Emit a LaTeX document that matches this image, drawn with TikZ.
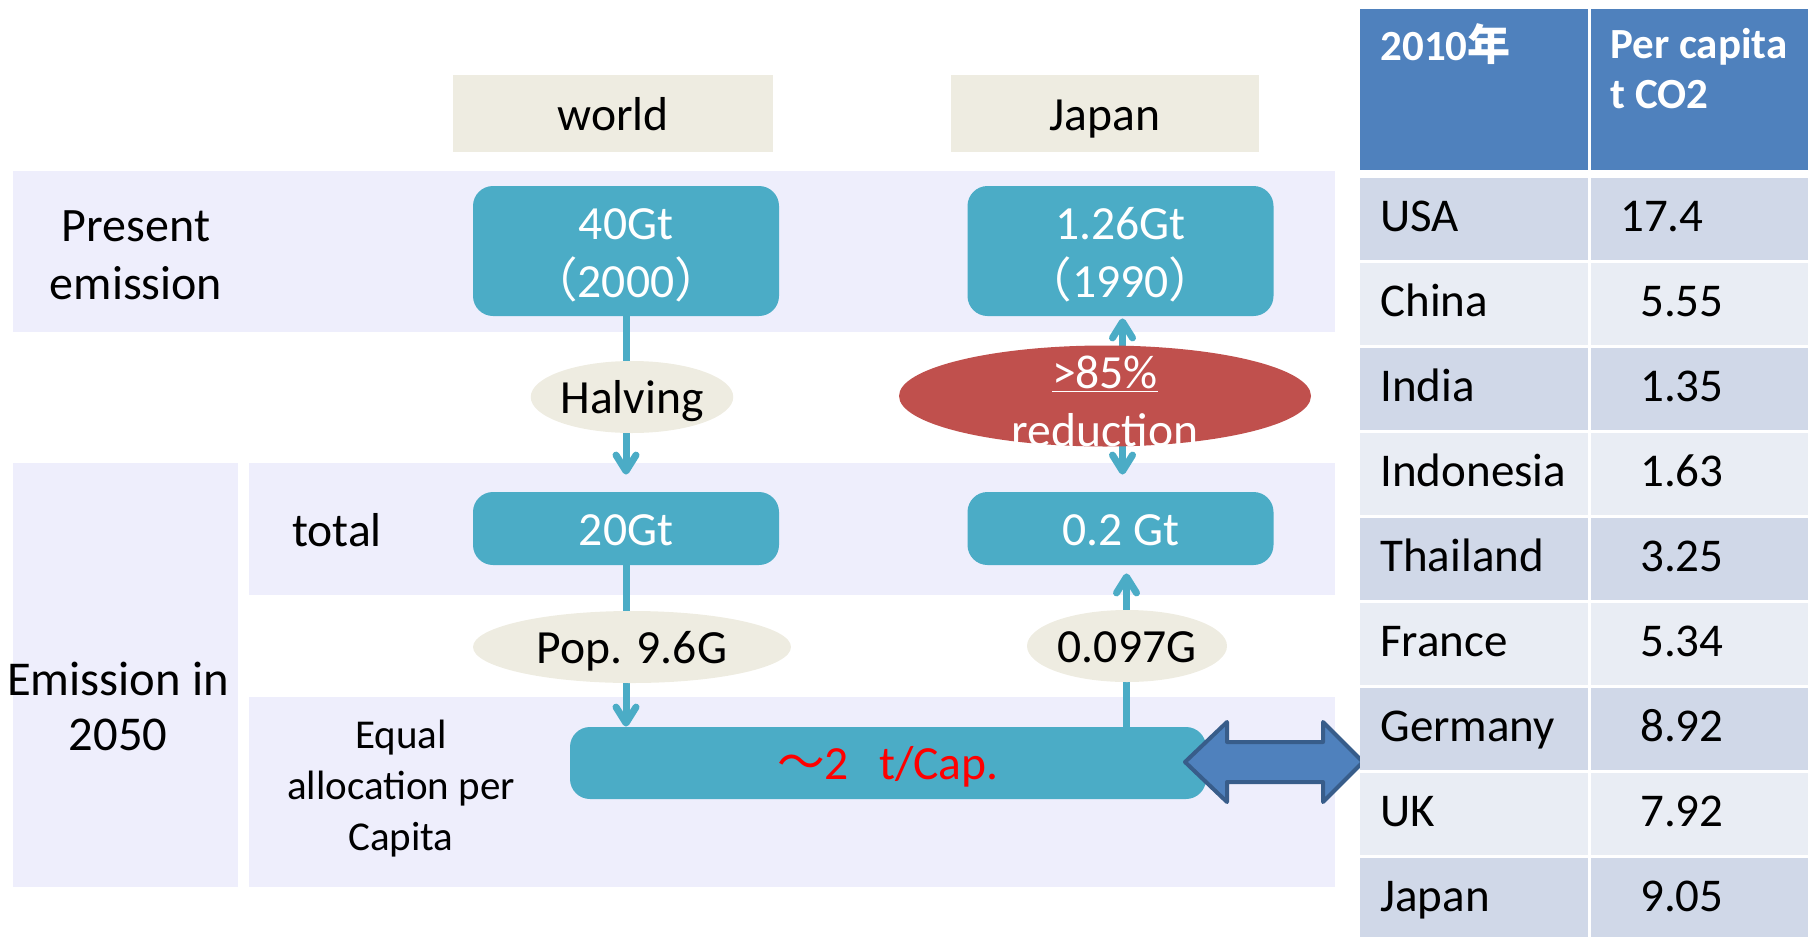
\documentclass[tikz,border=0pt]{standalone}
\usepackage{fontspec}
\setmainfont{Carlito}
\newfontfamily\cjk{Noto Sans CJK JP}
\usetikzlibrary{arrows.meta,shapes.geometric}
\definecolor{band}{RGB}{238,238,252}
\definecolor{tan}{RGB}{238,236,225}
\definecolor{boxteal}{RGB}{75,172,198}
\definecolor{cutred}{RGB}{192,80,77}
\definecolor{hdblue}{RGB}{79,129,189}
\definecolor{hdedge}{RGB}{56,93,138}
\definecolor{rowdark}{RGB}{208,216,232}
\definecolor{rowlight}{RGB}{233,237,244}

\begin{document}
\begin{tikzpicture}[x=0.5pt,y=-0.5pt,
  every node/.style={inner sep=0pt,font=\fontsize{23.8}{29}\selectfont},
  >={Straight Barb[length=8pt,width=10pt,round]},
  oneline/.style={text height=20.5pt,text depth=4pt},
  head/.style={oneline,fill=tan,minimum height=38.5pt},
  gt/.style={fill=boxteal,rounded corners=10pt,text=white,minimum width=153pt,align=center},
  oval/.style={oneline,ellipse,fill=tan,minimum height=36pt},
  flow/.style={draw=boxteal,line width=3.5pt,line cap=round},
  cname/.style={anchor=base west,font=\fontsize{23.5}{28}\selectfont},
  cval/.style={anchor=base east,font=\fontsize{23.5}{28}\selectfont}]
\useasboundingbox (0,0) rectangle (1808,937);

\node[head,minimum width=160pt] (w) at (613,113.5) {world};
\node[head,minimum width=154pt] (j) at (1105,113.5) {Japan};

\fill[band] (13,171) rectangle (1335,332);
\fill[band] (13,463) rectangle (238,887);
\fill[band] (249,463) rectangle (1335,595);
\fill[band] (249,697) rectangle (1335,887);

\node[align=center,font=\fontsize{24}{29}\selectfont] (pe) at (136,255) {Present\\emission};
\node[align=center,font=\fontsize{24.3}{27.5}\selectfont] (e50) at (118,706) {Emission in\\2050};
\node[oneline] (tot) at (337,530) {total};
\node[align=center,font=\fontsize{20.5}{25.5}\selectfont] (eq) at (401,789) {Equal\\allocation per\\Capita};

\node[gt,minimum height=65pt] (w40) at (626,251) {\rule{0pt}{20pt}40Gt\\{\cjk （}2000{\cjk ）}};
\node[gt,minimum height=65pt] (j126) at (1120.5,251) {\rule{0pt}{20pt}1.26Gt\\{\cjk （}1990{\cjk ）}};
\node[gt,oneline,minimum height=36.5pt] (w20) at (626,528.5) {20Gt};
\node[gt,oneline,minimum height=36.5pt] (j02) at (1120.5,528.5) {0.2 Gt};
\node[gt,oneline,minimum width=318pt,minimum height=36pt,text=red] (cap) at (888,763) {{\cjk ～}2\hspace{15pt}t/Cap.};

\draw[flow,->,shorten >=8.5pt] (w40) -- (w20);
\draw[flow,->] (w20) -- (w20 |- cap.north);
\draw[flow,<->,shorten <=1pt,shorten >=8.5pt] ([xshift=1pt]j126.south) -- ([xshift=1pt]j02.north);
\draw[flow,->,shorten >=4pt] ([xshift=3pt]j02 |- cap.north) -- ([xshift=3pt]j02.south);

\node[oval,minimum width=100pt] (half) at (632,397) {Halving};
\node[oval,minimum width=159pt] (pop) at (632,647) {Pop. 9.6G};
\node[oval,minimum width=100pt] (jpop) at (1127,646) {0.097G};
\node[ellipse,fill=cutred,minimum width=206pt,minimum height=50.5pt] (cut) at (1105,396) {};
\node[text=white,align=center] (cuttxt) at (1105,401) {\underline{>85\%}\\reduction};

\draw[fill=hdblue,draw=hdedge,line width=2pt,line join=round] (1185,762) -- (1227,722) -- (1227,742) -- (1323,742) -- (1323,722) -- (1363,762) -- (1323,802) -- (1323,782) -- (1227,782) -- (1227,802) -- cycle;

% table
\fill[hdblue] (1360,9) rectangle (1808,170);
\fill[rowdark] (1360,178) rectangle (1808,260);
\fill[rowlight] (1360,263) rectangle (1808,345);
\fill[rowdark] (1360,348) rectangle (1808,430);
\fill[rowlight] (1360,433) rectangle (1808,515);
\fill[rowdark] (1360,518) rectangle (1808,600);
\fill[rowlight] (1360,603) rectangle (1808,685);
\fill[rowdark] (1360,688) rectangle (1808,770);
\fill[rowlight] (1360,773) rectangle (1808,855);
\fill[rowdark] (1360,858) rectangle (1808,937);
\fill[white] (1588,9) rectangle (1591,937);

\node[anchor=base west,text=white,font=\bfseries\fontsize{21.5}{25}\selectfont] (yr) at (1380,60) {2010{\cjk 年}};
\node[anchor=north west,text=white,align=left,font=\bfseries\fontsize{21.5}{25}\selectfont] (pc) at (1610,28) {Per capita\\t CO2};

\node[cname] (usa) at (1380,231) {USA};
\node[cval] (usav) at (1704,231) {17.4};
\node[cname] (chn) at (1380,316) {China};
\node[cval] (chnv) at (1724,316) {5.55};
\node[cname] (ind) at (1380,401) {India};
\node[cval] (indv) at (1724,401) {1.35};
\node[cname] (idn) at (1380,486) {Indonesia};
\node[cval] (idnv) at (1724,486) {1.63};
\node[cname] (tha) at (1380,571) {Thailand};
\node[cval] (thav) at (1724,571) {3.25};
\node[cname] (fra) at (1380,656) {France};
\node[cval] (frav) at (1724,656) {5.34};
\node[cname] (ger) at (1380,741) {Germany};
\node[cval] (gerv) at (1724,741) {8.92};
\node[cname] (uk) at (1380,826) {UK};
\node[cval] (ukv) at (1724,826) {7.92};
\node[cname] (jpn) at (1380,911) {Japan};
\node[cval] (jpnv) at (1724,911) {9.05};

\end{tikzpicture}
\end{document}
